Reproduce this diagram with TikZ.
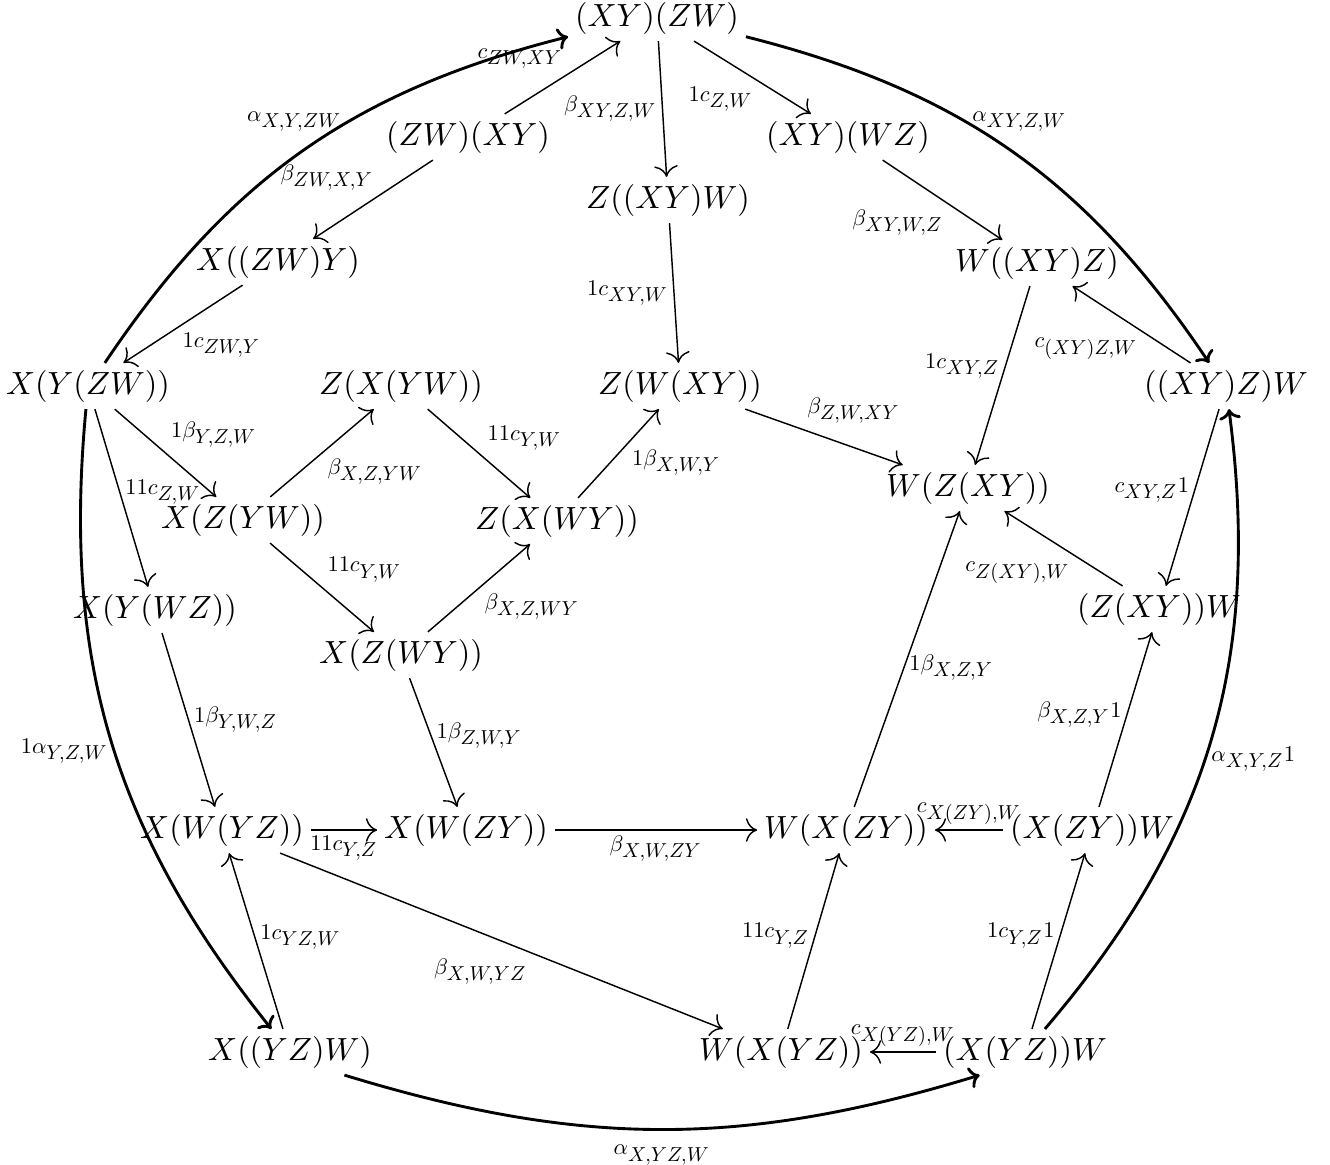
\documentclass[tikz,border=0pt]{standalone}
\usetikzlibrary{arrows.meta}
\DeclareFontShape{OML}{cmm}{m}{it}{<->cmmi10}{}
\DeclareFontShape{OT1}{cmr}{m}{n}{<->cmr10}{}
\DeclareFontShape{OMS}{cmsy}{m}{n}{<->cmsy10}{}
\DeclareMathSizes{7}{7}{6.3}{5}
\begin{document}
\begin{tikzpicture}[x=0.01095cm,y=-0.01095cm,
  obj/.style={inner sep=2pt},
  lab/.style={font=\fontsize{7}{8}\selectfont, inner sep=1.5pt},
  ar/.style={-{Computer Modern Rightarrow[scale=1.35]}, line width=0.45pt},
  arc/.style={-{Computer Modern Rightarrow[scale=0.9]}, line width=0.9pt}]
\useasboundingbox (0,0) rectangle (1330,1164);
% objects
\node[obj] (A1) at (657,18) {$(XY)(ZW)$};
\node[obj] (A2) at (468,137) {$(ZW)(XY)$};
\node[obj] (A3) at (848,137) {$(XY)(WZ)$};
\node[obj] (A4) at (668,200) {$Z((XY)W)$};
\node[obj] (A5) at (278,262) {$X((ZW)Y)$};
\node[obj] (A6) at (1037,263) {$W((XY)Z)$};
\node[obj] (A7) at (88,386) {$X(Y(ZW))$};
\node[obj] (A8) at (401,386) {$Z(X(YW))$};
\node[obj] (A9) at (680,386) {$Z(W(XY))$};
\node[obj] (A10) at (1226,386) {$((XY)Z)W$};
\node[obj] (A11) at (968,488) {$W(Z(XY))$};
\node[obj] (A12) at (243,520) {$X(Z(YW))$};
\node[obj] (A13) at (557,521) {$Z(X(WY))$};
\node[obj] (A14) at (155,610) {$X(Y(WZ))$};
\node[obj] (A15) at (1159,609) {$(Z(XY))W$};
\node[obj] (A16) at (401,655) {$X(Z(WY))$};
\node[obj] (A17) at (222,830) {$X(W(YZ))$};
\node[obj] (A18) at (466,830) {$X(W(ZY))$};
\node[obj] (A19) at (846,830) {$W(X(ZY))$};
\node[obj] (A20) at (1092,830) {$(X(ZY))W$};
\node[obj] (A21) at (290,1052) {$X((YZ)W)$};
\node[obj] (A22) at (781,1052) {$W(X(YZ))$};
\node[obj] (A23) at (1025,1052) {$(X(YZ))W$};
% thin arrows
\draw[ar] (A2) -- node[lab,pos=0.55,above left]{$c_{ZW,XY}$} (A1);
\draw[ar] (A1) -- node[lab,pos=0.5,left]{$\beta_{XY,Z,W}$} (A4);
\draw[ar] (A1) -- node[lab,pos=0.55,below left]{$1c_{Z,W}$} (A3);
\draw[ar] (A2) -- node[lab,pos=0.45,above left]{$\beta_{ZW,X,Y}$} (A5);
\draw[ar] (A3) -- node[lab,pos=0.55,below left]{$\beta_{XY,W,Z}$} (A6);
\draw[ar] (A5) -- node[lab,pos=0.55,below right]{$1c_{ZW,Y}$} (A7);
\draw[ar] (A4) -- node[lab,pos=0.5,left]{$1c_{XY,W}$} (A9);
\draw[ar] (A6) -- node[lab,pos=0.45,left]{$1c_{XY,Z}$} (A11);
\draw[ar] (A10) -- node[lab,pos=0.4,below left]{$c_{(XY)Z,W}$} (A6);
\draw[ar] (A7) -- node[lab,pos=0.5,above right]{$1\beta_{Y,Z,W}$} (A12);
\draw[ar] (A7) -- node[lab,pos=0.47,right]{$11c_{Z,W}$} (A14);
\draw[ar] (A12) -- node[lab,pos=0.5,below right]{$\beta_{X,Z,YW}$} (A8);
\draw[ar] (A12) -- node[lab,pos=0.5,above right]{$11c_{Y,W}$} (A16);
\draw[ar] (A16) -- node[lab,pos=0.5,below right]{$\beta_{X,Z,WY}$} (A13);
\draw[ar] (A8) -- node[lab,pos=0.53,above right]{$11c_{Y,W}$} (A13);
\draw[ar] (A13) -- node[lab,pos=0.6,below right]{$1\beta_{X,W,Y}$} (A9);
\draw[ar] (A9) -- node[lab,pos=0.36,above right]{$\beta_{Z,W,XY}$} (A11);
\draw[ar] (A10) -- node[lab,pos=0.46,left]{$c_{XY,Z}1$} (A15);
\draw[ar] (A15) -- node[lab,pos=0.4,below left]{$c_{Z(XY),W}$} (A11);
\draw[ar] (A19) -- node[lab,pos=0.47,right]{$1\beta_{X,Z,Y}$} (A11);
\draw[ar] (A20) -- node[lab,pos=0.53,left]{$\beta_{X,Z,Y}1$} (A15);
\draw[ar] (A14) -- node[lab,pos=0.5,right]{$1\beta_{Y,W,Z}$} (A17);
\draw[ar] (A16) -- node[lab,pos=0.45,right]{$1\beta_{Z,W,Y}$} (A18);
\draw[ar] (A17) -- node[lab,pos=0.5,below]{$11c_{Y,Z}$} (A18);
\draw[ar] (A18) -- node[lab,pos=0.5,below]{$\beta_{X,W,ZY}$} (A19);
\draw[ar] (A20) -- node[lab,pos=0.5,above]{$c_{X(ZY),W}$} (A19);
\draw[ar] (A17) -- node[lab,pos=0.57,below left]{$\beta_{X,W,YZ}$} (A22);
\draw[ar] (A21) -- node[lab,pos=0.52,right]{$1c_{YZ,W}$} (A17);
\draw[ar] (A22) -- node[lab,pos=0.53,left]{$11c_{Y,Z}$} (A19);
\draw[ar] (A23) -- node[lab,pos=0.53,left]{$1c_{Y,Z}1$} (A20);
\draw[ar] (A23) -- node[lab,pos=0.5,above]{$c_{X(YZ),W}$} (A22);
% outer arcs
\draw[arc] (A7) to[bend left=21] node[lab,pos=0.6,left]{$\alpha_{X,Y,ZW}$} (A1);
\draw[arc] (A1) to[bend left=21] node[lab,pos=0.4,right]{$\alpha_{XY,Z,W}$} (A10);
\draw[arc] (A7) to[bend right=22] node[lab,pos=0.52,left]{$1\alpha_{Y,Z,W}$} (A21);
\draw[arc] (A21.-23) to[bend right=17] node[lab,pos=0.5,below=3pt]{$\alpha_{X,YZ,W}$} (A23.207);
\draw[arc] (A23) to[bend right=24] node[lab,pos=0.47,right]{$\alpha_{X,Y,Z}1$} (A10);
\end{tikzpicture}
\end{document}
